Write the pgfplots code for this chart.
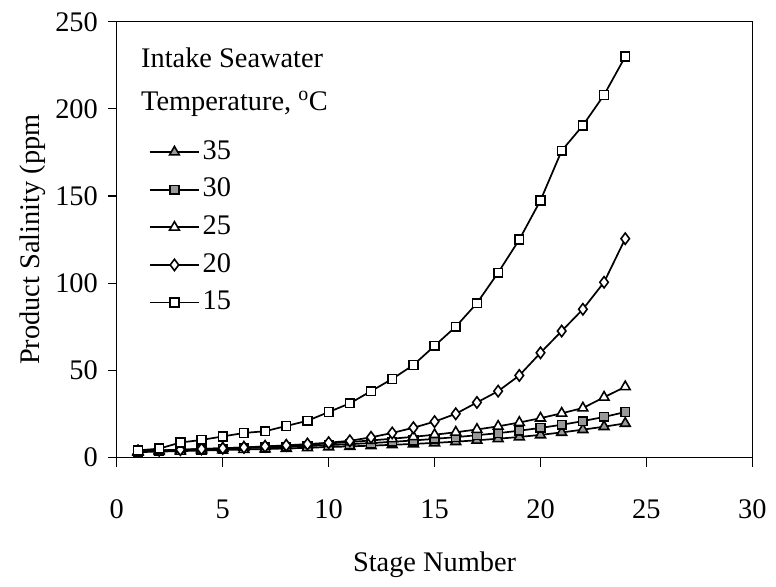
\documentclass[border=0pt]{standalone}
\usepackage{fontspec}
\setmainfont{Liberation Serif}
\usepackage{pgfplots}
\pgfplotsset{compat=1.18}
\definecolor{mkgray}{gray}{0.6}

\begin{document}
\fontsize{21.5}{25}\selectfont
\begin{tikzpicture}
\begin{axis}[
  width=481.5pt,height=330pt,scale only axis,
  xmin=0,xmax=30,ymin=0,ymax=250,
  xtick={0,5,...,30},ytick={0,50,...,250},
  tick align=outside,xtick pos=bottom,ytick pos=left,
  major tick length=7pt,
  axis line style={line width=1pt},
  every tick/.style={black,line width=0.9pt},
  /pgf/number format/assume math mode=true,
  xticklabel style={yshift=-18pt},
  xlabel={Stage Number},ylabel={Product Salinity (ppm},
  xlabel style={yshift=-10pt},
  ylabel style={yshift=-7pt},
  legend style={at={(axis description cs:0.05,0.734)},anchor=north west,
    draw=none,fill=none,inner sep=0pt,row sep=7pt},
  legend cell align=left,
  legend image code/.code={\draw[mark repeat=2,mark phase=2,#1] plot coordinates {(0pt,0pt)(18.75pt,0pt)(37.5pt,0pt)};},
]
% 35 C
\addplot[black,line width=1.3pt,mark=triangle*,mark size=4.3pt,mark options={solid,line width=1.2pt,fill=mkgray}] coordinates {
(1,3) (2,3.3) (3,3.6) (4,3.9) (5,4.2) (6,4.5) (7,4.8) (8,5.1) (9,5.5) (10,5.9) (11,6.3) (12,6.7)
(13,7.2) (14,7.7) (15,8.3) (16,9) (17,9.8) (18,10.7) (19,11.7) (20,12.9) (21,14.3) (22,15.9) (23,17.6) (24,19.5)};
% 30 C
\addplot[black,line width=1.3pt,mark=square*,mark size=3.3pt,mark options={solid,line width=1.2pt,fill=mkgray}] coordinates {
(1,3.3) (2,3.7) (3,4.1) (4,4.5) (5,4.9) (6,5.3) (7,5.7) (8,6.1) (9,6.5) (10,7) (11,7.6) (12,8.2)
(13,8.9) (14,9.7) (15,10.6) (16,11.6) (17,12.7) (18,13.9) (19,15.3) (20,16.9) (21,18.7) (22,20.8) (23,23.2) (24,26)};
% 25 C
\addplot[black,line width=1.3pt,mark=triangle*,mark size=4.3pt,mark options={solid,line width=1.2pt,fill=white}] coordinates {
(1,3.5) (2,3.9) (3,4.3) (4,4.8) (5,5.2) (6,5.7) (7,6.2) (8,6.7) (9,7.3) (10,8) (11,8.8) (12,9.7)
(13,10.7) (14,11.8) (15,13) (16,14.4) (17,16) (18,17.8) (19,20) (20,22.5) (21,25.3) (22,28.3) (23,34.5) (24,40.5)};
% 20 C
\addplot[black,line width=1.3pt,mark=diamond*,mark size=4.3pt,mark options={solid,line width=1.2pt,fill=white}] coordinates {
(1,3.7) (2,4) (3,4.4) (4,4.8) (5,5.2) (6,5.7) (7,6.3) (8,6.9) (9,7.6) (10,8.4) (11,9.5) (12,11.5)
(13,14) (14,17) (15,20.5) (16,25) (17,31.5) (18,38) (19,47) (20,60) (21,72.5) (22,85) (23,100.5) (24,125.5)};
% 15 C
\addplot[black,line width=1.3pt,mark=square*,mark size=3.3pt,mark options={solid,line width=1.2pt,fill=white}] coordinates {
(1,4) (2,5) (3,8.5) (4,10) (5,12) (6,14) (7,15) (8,18) (9,21) (10,26) (11,31) (12,38)
(13,45) (14,53) (15,64) (16,75) (17,88.5) (18,106) (19,125) (20,147.5) (21,176) (22,190.5) (23,208) (24,230)};
\legend{35,30,25,20,15}
\node[anchor=west] at (axis description cs:0.023,0.918) {Intake Seawater};
\node[anchor=west] at (axis description cs:0.023,0.811) {Temperature, \textsuperscript{o}C};
\end{axis}
\path (current axis.south west) ++(-88.5pt,-85.5pt) (current axis.north east) ++(12pt,16.5pt);
\end{tikzpicture}
\end{document}
